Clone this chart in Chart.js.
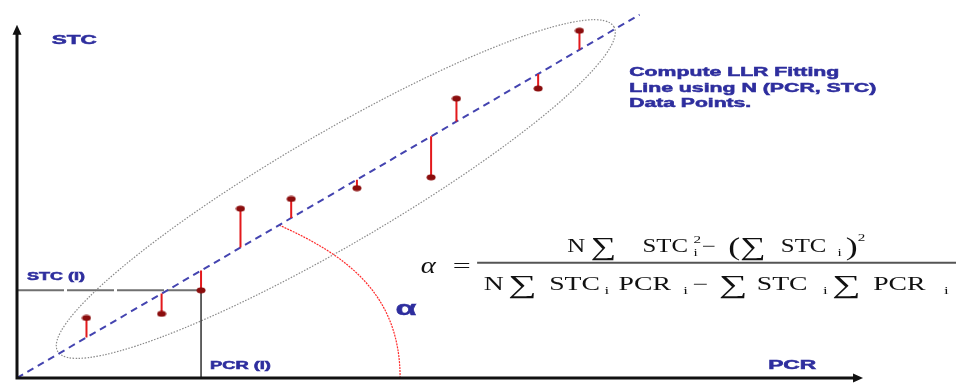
<!DOCTYPE html>
<html lang="en">
<head>
<meta charset="UTF-8">
<title>LLR Fitting Line</title>
<script src="https://cdn.jsdelivr.net/npm/chart.js@4"></script>
<style>
    html, body { margin: 0; padding: 0; background: #fff; }
    #wrap { width: 961px; height: 383px; position: relative; }
</style>
</head>
<body>
<div id="wrap"><canvas id="fitChart"></canvas></div>
<script>
    // (PCR, STC) samples
    const pcr = [7.4, 15.4, 19.6, 23.8, 29.2, 36.2, 44.1, 46.8, 55.5, 59.9];
    const stc = [16.1, 17.2, 23.5, 45.4, 48.0, 50.9, 53.8, 74.9, 77.6, 93.1];

    // LLR fitting line end points
    const fitPcr = [0, 66.3];
    const fitStc = [0, 97.4];

    // sample picked out as (PCR(i), STC(i))
    const markedIndex = 2;

    // dotted outline: centre, end of long axis, end of short axis
    const ringPcr = [33.95, 63.56, 37.0];
    const ringStc = [50.66, 94.2, 37.8];

    // angle arc: start on the line, two control points, end on the PCR axis
    const arcPcr = [27.9, 35.3, 40.8, 40.8];
    const arcStc = [41.0, 32.7, 22.2, 0];

    // where the axis arrows stop
    const axisEndPcr = 90.1;
    const axisEndStc = 94.7;

    const slope = fitStc[1] / fitPcr[1];
    const blue = '#2e2e9e';
    const sans = (w, s) => `${w} ${s}px "Liberation Sans", Arial, sans-serif`;
    const serif = (s, st = '') => `${st} ${s}px "Liberation Serif", "DejaVu Serif", serif`;

    // vertical residual from every sample to the line, broken by nulls
    const residuals = [];
    pcr.forEach((x, i) => {
        residuals.push({ x: x, y: stc[i] }, { x: x, y: x * slope }, { x: x, y: null });
    });

    // flattened dark red dot used as point style
    const dot = document.createElement('canvas');
    dot.width = 10; dot.height = 7;
    const dctx = dot.getContext('2d');
    dctx.fillStyle = '#8b0d0d';
    dctx.beginPath();
    dctx.ellipse(5, 3.5, 4.5, 3, 0, 0, 2 * Math.PI);
    dctx.fill();

    const labels = [
        { t: 'STC', x: 3.7, y: 90.5, w: 45, font: sans('bold', 12) },
        { t: 'PCR', x: 80.0, y: 3.2, w: 48, font: sans('bold', 12) },
        { t: 'STC (I)', x: 1.06, y: 26.9, w: 58, font: sans('bold', 10) },
        { t: 'PCR (I)', x: 20.55, y: 3.2, w: 61, font: sans('bold', 10) },
        { t: 'Compute LLR Fitting', x: 65.2, y: 81.8, w: 210, font: sans('bold', 12) },
        { t: 'Line using N (PCR, STC)', x: 65.2, y: 77.6, w: 247, font: sans('bold', 12) },
        { t: 'Data Points.', x: 65.2, y: 73.6, w: 122, font: sans('bold', 12) },
        { t: 'α', x: 40.3, y: 18.5, w: 21, font: sans('bold', 21) }
    ];

    const big = serif(26);
    const txt = serif(18);
    const small = serif(11);
    const numerator = [
        { t: 'N', font: txt }, { gap: 4 },
        { t: '∑', font: big, dy: 3 }, { gap: 19 },
        { t: 'STC', font: txt }, { gap: 4 },
        { t: '2', font: small, dy: -9, stack: true }, { t: 'i', font: small, dy: 4 }, { gap: 3 },
        { t: '−', font: txt }, { gap: 9 },
        { t: '(', font: big, dy: 3 }, { t: '∑', font: big, dy: 3 }, { gap: 11 },
        { t: 'STC', font: txt }, { gap: 8 },
        { t: 'i', font: small, dy: 4 }, { gap: 3 },
        { t: ')', font: big, dy: 3 }, { t: '2', font: small, dy: -11 }
    ];
    const denominator = [
        { t: 'N', font: txt }, { gap: 3 },
        { t: '∑', font: big, dy: 3 }, { gap: 8 },
        { t: 'STC', font: txt }, { gap: 3 },
        { t: 'i', font: small, dy: 4 }, { gap: 6 },
        { t: 'PCR', font: txt }, { gap: 8 },
        { t: 'i', font: small, dy: 4 }, { gap: 3 },
        { t: '−', font: txt }, { gap: 7 },
        { t: '∑', font: big, dy: 3 }, { gap: 6 },
        { t: 'STC', font: txt }, { gap: 10 },
        { t: 'i', font: small, dy: 4 }, { gap: 3 },
        { t: '∑', font: big, dy: 3 }, { gap: 8 },
        { t: 'PCR', font: txt }, { gap: 12 },
        { t: 'i', font: small, dy: 4 }
    ];

    function px(chart, x, y) {
        return [chart.scales.x.getPixelForValue(x), chart.scales.y.getPixelForValue(y)];
    }

    // text squeezed or stretched sideways to a given width
    function stretchText(ctx, text, x, y, width, font, color, heavy) {
        ctx.save();
        ctx.font = font;
        const natural = ctx.measureText(text).width;
        ctx.translate(x, y);
        ctx.scale(width / natural, 1);
        ctx.fillStyle = color;
        ctx.textBaseline = 'middle';
        ctx.fillText(text, 0, 0);
        if (heavy) {
            ctx.strokeStyle = color;
            ctx.lineWidth = heavy;
            ctx.strokeText(text, 0, 0);
        }
        ctx.restore();
    }

    // a run of formula pieces fitted to a width
    function drawRun(ctx, pieces, left, baseline, width) {
        let natural = 0;
        pieces.forEach(p => {
            if (p.gap) { natural += p.gap; return; }
            ctx.font = p.font;
            p.w = ctx.measureText(p.t).width;
            if (!p.stack) natural += p.w;
        });
        ctx.save();
        ctx.translate(left, baseline);
        ctx.scale(width / natural, 1);
        ctx.fillStyle = '#111';
        ctx.textBaseline = 'alphabetic';
        let x = 0;
        pieces.forEach(p => {
            if (p.gap) { x += p.gap; return; }
            ctx.font = p.font;
            ctx.fillText(p.t, x, p.dy || 0);
            if (!p.stack) x += p.w;
        });
        ctx.restore();
    }

    const sketch = {
        id: 'sketch',
        beforeDatasetsDraw(chart) {
            const ctx = chart.ctx;
            // dotted outline around the samples
            const [cx, cy] = px(chart, ringPcr[0], ringStc[0]);
            const [ax, ay] = px(chart, ringPcr[1], ringStc[1]);
            const [bx, by] = px(chart, ringPcr[2], ringStc[2]);
            ctx.save();
            ctx.beginPath();
            ctx.save();
            ctx.transform(ax - cx, ay - cy, bx - cx, by - cy, cx, cy);
            ctx.arc(0, 0, 1, 0, 2 * Math.PI);
            ctx.restore();
            ctx.strokeStyle = '#8a8a8a';
            ctx.lineWidth = 1.2;
            ctx.setLineDash([1.5, 1.5]);
            ctx.stroke();

            // angle arc
            const p = arcPcr.map((x, i) => px(chart, x, arcStc[i]));
            ctx.beginPath();
            ctx.moveTo(p[0][0], p[0][1]);
            ctx.bezierCurveTo(p[1][0], p[1][1], p[2][0], p[2][1], p[3][0], p[3][1]);
            ctx.strokeStyle = '#ff2a2a';
            ctx.lineWidth = 1.2;
            ctx.setLineDash([2, 1]);
            ctx.stroke();
            ctx.restore();
        },
        afterDraw(chart) {
            const ctx = chart.ctx;
            const [ox, oy] = px(chart, 0, 0);
            const [, ty] = px(chart, 0, axisEndStc);
            const [tx] = px(chart, axisEndPcr, 0);

            // axes with arrow heads
            ctx.save();
            ctx.strokeStyle = '#111';
            ctx.fillStyle = '#111';
            ctx.lineWidth = 3;
            ctx.beginPath();
            ctx.moveTo(ox, oy + 1.5);
            ctx.lineTo(ox, ty + 8);
            ctx.moveTo(ox - 1.5, oy);
            ctx.lineTo(tx - 8, oy);
            ctx.stroke();
            ctx.beginPath();
            ctx.moveTo(ox, ty);
            ctx.lineTo(ox - 4.5, ty + 10);
            ctx.lineTo(ox + 4.5, ty + 10);
            ctx.closePath();
            ctx.moveTo(tx, oy);
            ctx.lineTo(tx - 10, oy - 4.5);
            ctx.lineTo(tx - 10, oy + 4.5);
            ctx.closePath();
            ctx.fill();
            ctx.restore();

            labels.forEach(l => {
                const [x, y] = px(chart, l.x, l.y);
                stretchText(ctx, l.t, x, y, l.w, l.font, blue, 0.5);
            });

            // slope formula
            const [alx, aly] = px(chart, 43.0, 29.8);
            stretchText(ctx, 'α', alx, aly, 15, serif(24, 'italic'), '#111');
            const [eqx, eqy] = px(chart, 46.4, 29.8);
            stretchText(ctx, '=', eqx, eqy, 18, serif(18), '#111');

            const [bx0, by0] = px(chart, 49.0, 30.9);
            const [bx1] = px(chart, 100, 30.9);
            ctx.save();
            ctx.strokeStyle = '#555';
            ctx.lineWidth = 2;
            ctx.beginPath();
            ctx.moveTo(bx0, by0);
            ctx.lineTo(bx1, by0);
            ctx.stroke();
            ctx.restore();

            const [nx, ny] = px(chart, 58.6, 33.8);
            drawRun(ctx, numerator, nx, ny, 298);
            const [dx, dy] = px(chart, 49.7, 23.7);
            drawRun(ctx, denominator, dx, dy, 465);
        }
    };

    const ctx = document.getElementById('fitChart').getContext('2d');
    new Chart(ctx, {
        type: 'scatter',
        data: {
            datasets: [
                {
                    label: 'Samples',
                    data: pcr.map((x, i) => ({ x: x, y: stc[i] })),
                    pointStyle: dot,
                    order: 0
                },
                {
                    type: 'line',
                    label: 'Residuals',
                    data: residuals,
                    borderColor: '#e3191c',
                    borderWidth: 2,
                    pointRadius: 0,
                    spanGaps: false,
                    order: 1
                },
                {
                    type: 'line',
                    label: 'LLR fit',
                    data: fitPcr.map((x, i) => ({ x: x, y: fitStc[i] })),
                    borderColor: '#4444b0',
                    borderWidth: 2,
                    borderDash: [7, 5],
                    pointRadius: 0,
                    order: 2
                },
                {
                    type: 'line',
                    label: 'STC (I)',
                    data: [{ x: 0, y: stc[markedIndex] }, { x: pcr[markedIndex], y: stc[markedIndex] }],
                    borderColor: '#707070',
                    borderWidth: 2,
                    borderDash: [47, 3],
                    pointRadius: 0,
                    order: 3
                },
                {
                    type: 'line',
                    label: 'PCR (I)',
                    data: [{ x: pcr[markedIndex], y: stc[markedIndex] }, { x: pcr[markedIndex], y: 0 }],
                    borderColor: '#303030',
                    borderWidth: 1.5,
                    pointRadius: 0,
                    order: 3
                }
            ]
        },
        options: {
            responsive: true,
            maintainAspectRatio: false,
            animation: false,
            layout: { padding: { left: 17, right: 0, top: 0, bottom: 4 } },
            scales: {
                x: { type: 'linear', min: 0, max: 100, display: false },
                y: { type: 'linear', min: 0, max: 100, display: false }
            },
            plugins: {
                legend: { display: false },
                tooltip: { enabled: false }
            }
        },
        plugins: [sketch]
    });
</script>
</body>
</html>
